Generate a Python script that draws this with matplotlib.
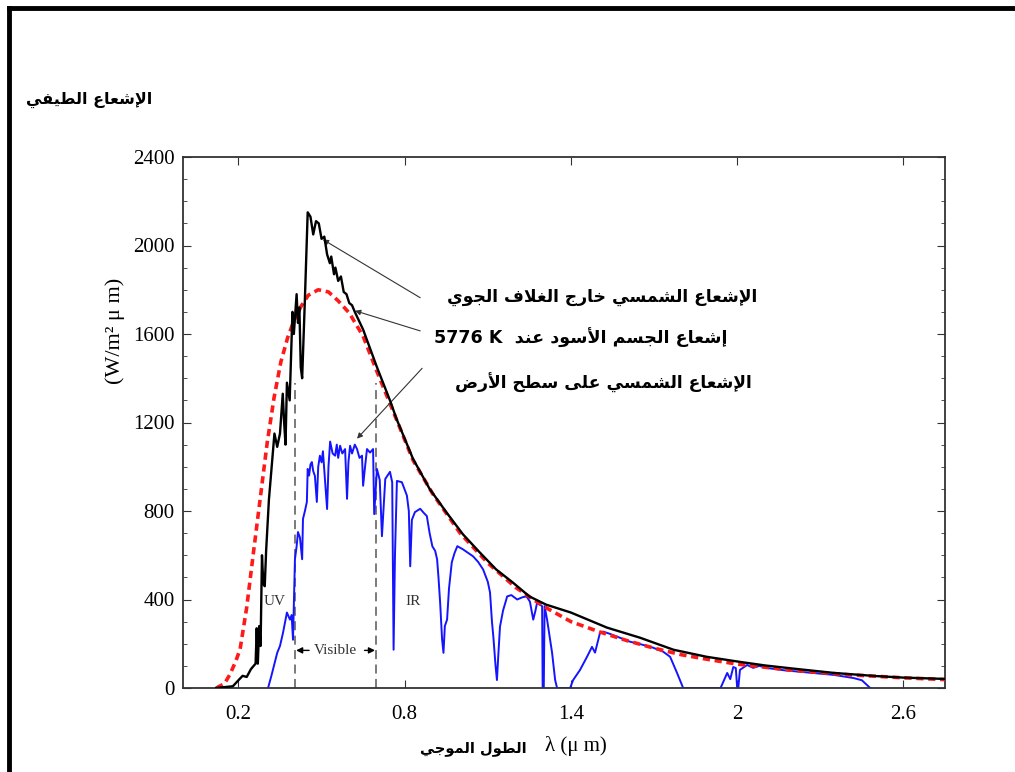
import numpy as np
import matplotlib
matplotlib.use("Agg")
import matplotlib.pyplot as plt
from matplotlib.lines import Line2D

# --- data (wavelength in micrometres, W/m^2 um) ---
black_x = [0.12, 0.18, 0.20, 0.215, 0.23, 0.245, 0.255, 0.262, 0.266, 0.27, 0.275, 0.28,
           0.285, 0.29, 0.295, 0.30, 0.31, 0.32, 0.33, 0.34, 0.35, 0.36, 0.365, 0.37,
           0.375, 0.385, 0.395, 0.40, 0.41, 0.415, 0.42, 0.425, 0.43, 0.44, 0.45, 0.46,
           0.47, 0.48, 0.49, 0.50, 0.51, 0.52, 0.53, 0.535, 0.545, 0.55, 0.56, 0.57,
           0.58, 0.59, 0.60, 0.61, 0.62, 0.65, 0.70, 0.75, 0.77, 0.83, 0.89, 0.95,
           1.01, 1.07, 1.13, 1.19, 1.25, 1.31, 1.40, 1.53, 1.65, 1.77, 1.89, 2.01,
           2.10, 2.20, 2.35, 2.50, 2.60, 2.75]
black_y = [0, 8, 35, 55, 50, 85, 100, 110, 270, 110, 280, 190,
           600, 470, 460, 620, 850, 1000, 1150, 1090, 1150, 1330, 1200, 1100,
           1380, 1300, 1700, 1600, 1780, 1650, 1720, 1450, 1400, 1760, 2150, 2130,
           2050, 2110, 2100, 2030, 2040, 1960, 1920, 1950, 1870, 1900, 1840, 1860,
           1790, 1780, 1740, 1730, 1700, 1620, 1450, 1290, 1218, 1036, 900, 795,
           695, 614, 536, 477, 414, 377, 341, 273, 227, 173, 141, 118,
           102, 88, 68, 54, 47, 41]

red_x = [0.12, 0.15, 0.17, 0.19, 0.206, 0.23, 0.255, 0.28, 0.304, 0.329, 0.353, 0.378,
         0.402, 0.427, 0.452, 0.488, 0.525, 0.56, 0.60, 0.65, 0.70, 0.77, 0.83, 0.90,
         1.0, 1.1, 1.2, 1.3, 1.4, 1.5, 1.6, 1.7, 1.8, 1.9, 2.0, 2.2, 2.4, 2.6, 2.75]
red_y = [0, 20, 63, 120, 175, 365, 620, 870, 1110, 1315, 1473, 1585,
         1665, 1727, 1775, 1800, 1790, 1750, 1695, 1590, 1430, 1215, 1030, 880,
         700, 565, 455, 370, 300, 255, 215, 180, 150, 128, 108, 80, 60, 46, 38]

blue_x = [0.307, 0.32, 0.34, 0.35, 0.361, 0.375, 0.386, 0.392, 0.397, 0.404, 0.41, 0.415,
          0.422, 0.43, 0.433, 0.44, 0.447, 0.45, 0.455, 0.46, 0.465, 0.47, 0.476, 0.483,
          0.488, 0.494, 0.50, 0.505, 0.512, 0.52, 0.525, 0.531, 0.54, 0.549, 0.555, 0.56,
          0.567, 0.575, 0.585, 0.592, 0.597, 0.603, 0.61, 0.62, 0.628, 0.637, 0.646, 0.65,
          0.657, 0.664, 0.675, 0.686, 0.69, 0.70, 0.71, 0.718, 0.73, 0.747, 0.755, 0.76,
          0.765, 0.772, 0.79, 0.808, 0.815, 0.82, 0.826, 0.837, 0.856, 0.87, 0.88, 0.89,
          0.90, 0.91, 0.917, 0.922, 0.928, 0.935, 0.94, 0.945, 0.953, 0.96, 0.97, 0.98,
          0.99, 1.01, 1.03, 1.047, 1.065, 1.083, 1.10, 1.108, 1.115, 1.12, 1.128, 1.133,
          1.138, 1.144, 1.155, 1.17, 1.185, 1.206, 1.225, 1.24, 1.252, 1.264, 1.272, 1.278,
          1.29, 1.296, 1.298, 1.302, 1.305, 1.314, 1.332, 1.343, 1.35, 1.397, 1.408, 1.433,
          1.458, 1.476, 1.487, 1.505, 1.516, 1.54, 1.567, 1.614, 1.66, 1.697, 1.733, 1.758,
          1.783, 1.805, 1.94, 1.964, 1.975, 1.986, 1.995, 2.0, 2.004, 2.01, 2.036, 2.058,
          2.08, 2.11, 2.17, 2.23, 2.29, 2.35, 2.42, 2.45, 2.48]
blue_y = [0, 60, 159, 190, 250, 341, 309, 330, 218, 582, 640, 705,
          680, 582, 764, 800, 841, 990, 960, 1010, 1021, 980, 959, 841,
          1000, 1050, 1020, 1070, 945, 809, 1000, 1114, 1060, 1050, 1100, 1040,
          1095, 1060, 1080, 855, 1020, 1095, 1060, 1100, 1080, 1040, 1050, 914,
          1000, 1080, 1064, 1080, 786, 990, 940, 686, 945, 977, 930, 173,
          600, 936, 930, 870, 800, 550, 760, 795, 810, 790, 777, 700,
          640, 620, 582, 500, 386, 220, 159, 280, 309, 450, 568, 610,
          641, 627, 610, 595, 570, 536, 480, 432, 300, 232, 100, 36,
          150, 277, 350, 414, 420, 400, 410, 414, 390, 309, 350, 386,
          375, 370, 0, 0, 370, 309, 159, 36, 0, 0, 36, 82,
          141, 186, 160, 250, 255, 245, 232, 209, 195, 182, 164, 141,
          68, 0, 0, 68, 40, 95, 90, 0, 0, 82, 104, 91,
          100, 90, 80, 73, 66, 59, 45, 35, 0]

x_ticks = [0.2, 0.8, 1.4, 2.0, 2.6]
x_tick_labels = ["0.2", "0.8", "1.4", "2", "2.6"]
y_ticks = [0, 400, 800, 1200, 1600, 2000, 2400]

title_txt = "الإشعاع الطيفي"
label_top = "الإشعاع الشمسي خارج الغلاف الجوي"
label_mid = "إشعاع الجسم الأسود عند"
label_bb = "5776 K"
label_low = "الإشعاع الشمسي على سطح الأرض"
xlabel_ar = "الطول الموجي"

# --- simple Arabic shaping: presentation forms + visual order ---
FORMS = {
    'ا': ('\uFE8D', '\uFE8E', None, None),
    'أ': ('\uFE83', '\uFE84', None, None),
    'إ': ('\uFE87', '\uFE88', None, None),
    'ب': ('\uFE8F', '\uFE90', '\uFE91', '\uFE92'),
    'ج': ('\uFE9D', '\uFE9E', '\uFE9F', '\uFEA0'),
    'ح': ('\uFEA1', '\uFEA2', '\uFEA3', '\uFEA4'),
    'خ': ('\uFEA5', '\uFEA6', '\uFEA7', '\uFEA8'),
    'د': ('\uFEA9', '\uFEAA', None, None),
    'ر': ('\uFEAD', '\uFEAE', None, None),
    'س': ('\uFEB1', '\uFEB2', '\uFEB3', '\uFEB4'),
    'ش': ('\uFEB5', '\uFEB6', '\uFEB7', '\uFEB8'),
    'ض': ('\uFEBD', '\uFEBE', '\uFEBF', '\uFEC0'),
    'ط': ('\uFEC1', '\uFEC2', '\uFEC3', '\uFEC4'),
    'ع': ('\uFEC9', '\uFECA', '\uFECB', '\uFECC'),
    'غ': ('\uFECD', '\uFECE', '\uFECF', '\uFED0'),
    'ف': ('\uFED1', '\uFED2', '\uFED3', '\uFED4'),
    'ل': ('\uFEDD', '\uFEDE', '\uFEDF', '\uFEE0'),
    'م': ('\uFEE1', '\uFEE2', '\uFEE3', '\uFEE4'),
    'ن': ('\uFEE5', '\uFEE6', '\uFEE7', '\uFEE8'),
    'و': ('\uFEED', '\uFEEE', None, None),
    'ى': ('\uFEEF', '\uFEF0', None, None),
    'ي': ('\uFEF1', '\uFEF2', '\uFEF3', '\uFEF4'),
    'لا': ('\uFEFB', '\uFEFC', None, None),
    'لأ': ('\uFEF7', '\uFEF8', None, None),
    'لإ': ('\uFEF9', '\uFEFA', None, None),
}


def shape(text):
    units = []
    i = 0
    while i < len(text):
        if text[i:i + 2] in FORMS:
            units.append(text[i:i + 2])
            i += 2
        else:
            units.append(text[i])
            i += 1
    out = []
    for k, u in enumerate(units):
        if u not in FORMS:
            out.append(u)
            continue
        iso, fin, ini, med = FORMS[u]
        prev = units[k - 1] if k > 0 else None
        nxt = units[k + 1] if k + 1 < len(units) else None
        join_prev = prev in FORMS and FORMS[prev][2] is not None
        join_next = ini is not None and nxt in FORMS
        if join_prev and join_next:
            out.append(med)
        elif join_prev:
            out.append(fin)
        elif join_next:
            out.append(ini)
        else:
            out.append(iso)
    return ''.join(out[::-1])


W, H = 1015, 772
fig = plt.figure(figsize=(W / 100, H / 100), dpi=100)
ax = fig.add_axes([183 / W, 1 - 688 / H, (945 - 183) / W, (688 - 157) / H])

serif = ["Liberation Serif", "DejaVu Serif"]
ar = ["DejaVu Sans"]

ax.plot(blue_x, blue_y, color="#1414ff", lw=1.4, zorder=2)
ax.plot(red_x, red_y, color="#ff1a1a", lw=2.6, ls=(0, (2, 1.3)), zorder=3)
ax.plot(black_x, black_y, color="black", lw=1.7, zorder=4)

ax.vlines([0.404, 0.697], 0, 1380, colors="#707070", lw=1.3, linestyles=(0, (5, 3)), zorder=1)

ax.set_xlim(0, 2.75)
ax.set_ylim(0, 2400)
ax.set_xticks(x_ticks)
ax.set_xticklabels(x_tick_labels)
ax.set_yticks(y_ticks)
ax.set_yticks(np.arange(0, 2401, 100), minor=True)
ax.tick_params(which="both", direction="in", top=True, right=True, labelsize=15,
               color="#333333")
ax.tick_params(axis="y", pad=6)
ax.tick_params(axis="x", pad=12)
ax.tick_params(which="major", length=6)
ax.tick_params(which="minor", length=3)
ax.tick_params(axis="x", which="minor", bottom=False, top=False)
for lab in ax.get_xticklabels() + ax.get_yticklabels():
    lab.set_family(serif)
for sp in ax.spines.values():
    sp.set_color("#333333")
    sp.set_linewidth(1.3)

# small labels inside the plot
ax.text(0.33, 390, "UV", family=serif, fontsize=11, ha="center", va="center", color="#333333")
ax.text(0.83, 390, "IR", family=serif, fontsize=11, ha="center", va="center", color="#333333")
ax.text(0.55, 170, "Visible", family=serif, fontsize=11, ha="center", va="center", color="#333333")
arr = dict(arrowstyle="-|>", lw=1.0, color="black", mutation_scale=9, shrinkA=0, shrinkB=0)
ax.annotate("", xy=(0.408, 170), xytext=(0.455, 170), arrowprops=arr)
ax.annotate("", xy=(0.693, 170), xytext=(0.655, 170), arrowprops=arr)

# pointer lines from the Arabic labels to the curves
ptr = dict(arrowstyle="-|>", lw=0.8, color="#333333", mutation_scale=8, shrinkA=0, shrinkB=0)
ax.annotate("", xy=(0.505, 2027), xytext=(0.856, 1764), arrowprops=ptr)
ax.annotate("", xy=(0.621, 1705), xytext=(0.856, 1614), arrowprops=ptr)
ax.annotate("", xy=(0.628, 1127), xytext=(0.863, 1445), arrowprops=ptr)

ax.set_ylabel("(W/m² μ m)", family=serif, fontsize=16)
ax.yaxis.set_label_coords((125 - 183) / 762, 0.672)

# figure texts
def ftext(px, py, s, **kw):
    fig.text(px / W, 1 - py / H, s, **kw)

ftext(152, 100, shape(title_txt), family=ar, fontsize=11.5, fontweight="bold", ha="right", va="center")
ftext(757, 297, shape(label_top), family=ar, fontsize=12.3, fontweight="bold", ha="right", va="center")
ftext(727, 338, label_bb + "  " + shape(label_mid), family=ar, fontsize=12.6, fontweight="bold",
      ha="right", va="center")
ftext(752, 383, shape(label_low), family=ar, fontsize=12.3, fontweight="bold", ha="right", va="center")
ftext(527, 748, shape(xlabel_ar), family=ar, fontsize=10.5, fontweight="bold", ha="right", va="center")
ftext(545, 746, "λ (μ m)", family=serif, fontsize=15, ha="left", va="center")

# frame around the picture (top and left edges are visible)
fig.add_artist(Line2D([9 / W, 1.0], [1 - 8 / H, 1 - 8 / H], color="black", lw=3.5))
fig.add_artist(Line2D([9 / W, 9 / W], [0.0, 1 - 8 / H], color="black", lw=3.5))

fig.savefig("out.png", dpi=100)
